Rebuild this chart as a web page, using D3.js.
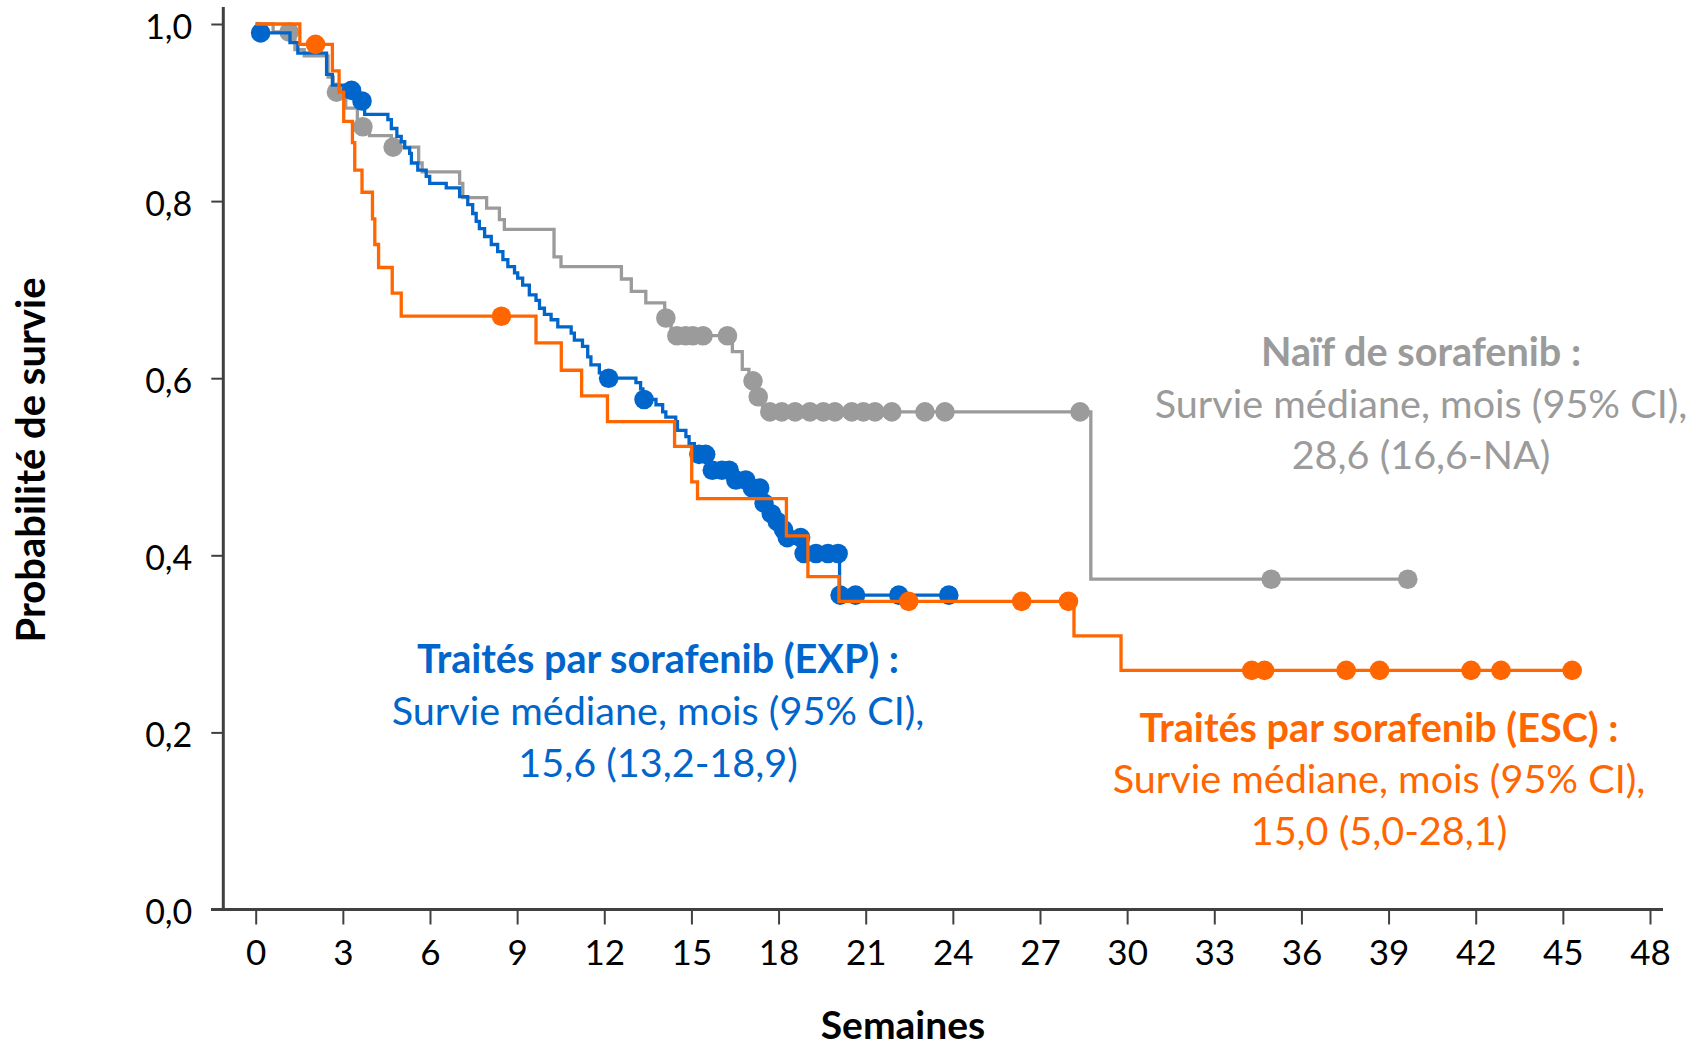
<!DOCTYPE html>
<html>
<head>
<meta charset="utf-8">
<script src="https://cdn.jsdelivr.net/npm/d3@7"></script>
<style>
  html, body { margin: 0; padding: 0; background: #ffffff; }
  svg { display: block; font-family: Lato, "Open Sans", sans-serif; }
</style>
</head>
<body>
<svg id="chart" width="1696" height="1050"></svg>
<script>
// ---------------- DATA ----------------
const weekTicks = [0, 3, 6, 9, 12, 15, 18, 21, 24, 27, 30, 33, 36, 39, 42, 45, 48];
const survTicks = [0, 0.2, 0.4, 0.6, 0.8, 1.0];

// Kaplan-Meier steps: [semaines, probabilité après l'événement]
const naifSteps = [[0,1.0],[0.6,0.991],[1.35,0.971],[1.67,0.964],[2.49,0.940],[2.67,0.923],[3.1,0.905],[3.5,0.884],[3.92,0.874],[4.67,0.861],[5.61,0.843],[5.73,0.833],[7.02,0.820],[7.13,0.804],[7.95,0.792],[8.39,0.779],[8.56,0.768],[10.27,0.737],[10.51,0.726],[12.59,0.712],[12.93,0.698],[13.43,0.685],[14.08,0.668],[14.3,0.648],[16.41,0.630],[16.75,0.610],[16.98,0.597],[17.2,0.579],[17.45,0.562],[28.75,0.373]];
const naifCensors = [1.15, 2.78, 3.69, 4.73, 14.12, 14.5, 14.8, 15.05, 15.4, 16.24, 17.12, 17.3, 17.70, 18.11, 18.57, 19.08, 19.54, 19.94, 20.52, 20.92, 21.32, 21.90, 23.04, 23.73, 28.38, 34.96, 39.66];

const expSteps = [[0,1.0],[0.1,0.990],[1.18,0.979],[1.45,0.967],[2.44,0.943],[2.64,0.931],[3.1,0.925],[3.5,0.913],[3.75,0.898],[4.55,0.892],[4.67,0.882],[4.86,0.873],[5.01,0.867],[5.13,0.860],[5.30,0.854],[5.36,0.843],[5.58,0.835],[5.87,0.828],[5.99,0.820],[6.56,0.815],[7.02,0.805],[7.30,0.796],[7.47,0.786],[7.59,0.777],[7.70,0.769],[7.88,0.760],[8.11,0.751],[8.33,0.743],[8.51,0.734],[8.68,0.726],[8.91,0.719],[9.02,0.713],[9.19,0.705],[9.42,0.694],[9.65,0.688],[9.77,0.679],[9.94,0.672],[10.17,0.666],[10.40,0.658],[10.86,0.651],[10.97,0.643],[11.25,0.636],[11.43,0.624],[11.54,0.615],[11.83,0.606],[11.95,0.600],[13.09,0.595],[13.25,0.588],[13.33,0.576],[13.78,0.570],[14.01,0.562],[14.12,0.556],[14.46,0.551],[14.52,0.541],[14.81,0.534],[14.92,0.526],[15.1,0.514],[15.6,0.496],[16.4,0.485],[17.0,0.476],[17.45,0.459],[17.65,0.447],[17.9,0.438],[18.1,0.429],[18.22,0.420],[18.82,0.402],[20.1,0.355]];
const expCensors = [0.17, 3.30, 3.66, 12.15, 13.37, 15.26, 15.49, 15.72, 16.05, 16.30, 16.53, 16.87, 17.10, 17.35, 17.5, 17.75, 17.96, 18.17, 18.3, 18.76, 18.88, 19.29, 19.70, 20.05, 20.12, 20.65, 22.14, 23.86];

const escSteps = [[0,1.0],[1.52,0.977],[2.64,0.947],[2.87,0.923],[3.03,0.890],[3.33,0.866],[3.41,0.835],[3.66,0.810],[4.02,0.780],[4.10,0.751],[4.23,0.725],[4.70,0.696],[5.01,0.670],[9.65,0.640],[10.52,0.609],[11.22,0.580],[12.11,0.551],[14.42,0.523],[15.01,0.483],[15.21,0.464],[18.27,0.422],[19.01,0.376],[20.08,0.348],[28.17,0.309],[29.79,0.270]];
const escCensors = [2.06, 8.46, 22.48, 26.37, 27.98, 34.29, 34.73, 37.54, 38.69, 41.84, 42.87, 45.32];

const groupNames = ["Naïf de sorafenib", "Traités par sorafenib (EXP)", "Traités par sorafenib (ESC)"];
const groupColors = ["#9b9b9b", "#0066cc", "#ff6600"];

const naifLabel = ["Naïf de sorafenib :", "Survie médiane, mois (95% CI),", "28,6 (16,6-NA)"];
const expLabel  = ["Traités par sorafenib (EXP) :", "Survie médiane, mois (95% CI),", "15,6 (13,2-18,9)"];
const escLabel  = ["Traités par sorafenib (ESC) :", "Survie médiane, mois (95% CI),", "15,0 (5,0-28,1)"];

const xTitle = "Semaines";
const yTitle = "Probabilité de survie";

// ---------------- CHART ----------------
const svg = d3.select("#chart");
const x = d3.scaleLinear().domain([0, 48]).range([255.7, 1650]);
const y = d3.scaleLinear().domain([0, 1]).range([909.5, 24]);
const axisColor = "#404040";
const fr = d3.formatLocale({decimal: ",", thousands: " ", grouping: [3], currency: ["", "€"]});
const fmt = fr.format(".1f");

// X axis ticks + labels
const gx = svg.append("g").attr("transform", `translate(0,${y(0)})`)
  .call(d3.axisBottom(x).tickValues(weekTicks).tickSize(15).tickSizeOuter(0).tickPadding(16).tickFormat(d3.format("d")));
gx.select(".domain").remove();
gx.selectAll(".tick line").attr("stroke", axisColor).attr("stroke-width", 2);
gx.selectAll(".tick text").attr("fill", "#000").attr("font-size", 35).attr("font-family", "Lato");

// Y axis ticks + labels
const gy = svg.append("g").attr("transform", `translate(${223.3},0)`)
  .call(d3.axisLeft(y).tickValues(survTicks).tickSize(12).tickSizeOuter(0).tickPadding(19).tickFormat(fmt));
gy.select(".domain").remove();
gy.selectAll(".tick line").attr("stroke", axisColor).attr("stroke-width", 2);
gy.selectAll(".tick text").attr("fill", "#000").attr("font-size", 34).attr("font-family", "Lato").attr("dy", "0.42em");

// Axis lines
svg.append("line").attr("x1", 223.3).attr("x2", 223.3).attr("y1", 7).attr("y2", y(0))
  .attr("stroke", axisColor).attr("stroke-width", 3);
svg.append("line").attr("x1", 211).attr("x2", 1663).attr("y1", y(0)).attr("y2", y(0))
  .attr("stroke", axisColor).attr("stroke-width", 3);

// Curves
function stepAt(steps, t) {
  let p = steps[0][1];
  for (const s of steps) { if (s[0] <= t) p = s[1]; else break; }
  return p;
}
const line = d3.line().x(d => x(d[0])).y(d => y(d[1])).curve(d3.curveStepAfter);
const groups = [
  {steps: naifSteps, censors: naifCensors, color: groupColors[0]},
  {steps: expSteps, censors: expCensors, color: groupColors[1]},
  {steps: escSteps, censors: escCensors, color: groupColors[2]}
];
groups.forEach(g => {
  const end = d3.max(g.censors);
  const pts = g.steps.concat([[end, g.steps[g.steps.length - 1][1]]]);
  const layer = svg.append("g");
  layer.append("path").datum(pts).attr("d", line)
    .attr("fill", "none").attr("stroke", g.color).attr("stroke-width", 3.3)
    .attr("stroke-linejoin", "miter");
  layer.selectAll("circle").data(g.censors).join("circle")
    .attr("cx", d => x(d)).attr("cy", d => y(stepAt(g.steps, d)))
    .attr("r", 9.8).attr("fill", g.color);
});

// Annotations
function annot(lines, cx, baselines, color) {
  const t = svg.append("text").attr("text-anchor", "middle").attr("fill", color)
    .attr("font-family", "Lato").attr("font-size", 39.6);
  lines.forEach((s, i) => {
    t.append("tspan").attr("x", cx).attr("y", baselines[i])
      .attr("font-weight", i === 0 ? "bold" : "normal").text(s);
  });
}
annot(naifLabel, 1421, [366, 418, 469], groupColors[0]);
annot(expLabel, 658, [673, 725, 777], groupColors[1]);
annot(escLabel, 1379, [742, 793, 845], groupColors[2]);

// Axis titles
svg.append("text").attr("x", 903).attr("y", 1039).attr("text-anchor", "middle")
  .attr("font-family", "Lato").attr("font-weight", "bold").attr("font-size", 39).attr("fill", "#000").text(xTitle);
svg.append("text").attr("transform", "translate(45,460) rotate(-90)").attr("text-anchor", "middle")
  .attr("font-family", "Lato").attr("font-weight", "bold").attr("font-size", 40).attr("fill", "#000").text(yTitle);
</script>
</body>
</html>
